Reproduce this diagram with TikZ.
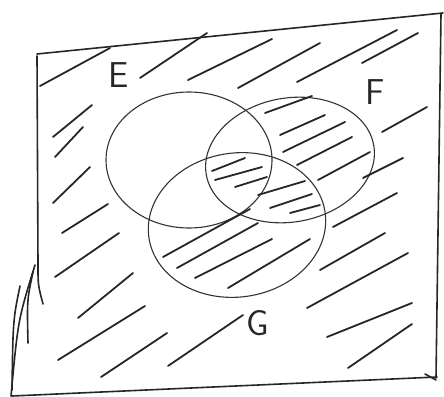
\documentclass[tikz,border=0pt]{standalone}
\usepackage{tikz}
\usetikzlibrary{calc}

\tikzset{
  frameline/.style={line width=1.6pt, black!85, line cap=round, line join=round},
  setline/.style={line width=1.1pt, black!80},
  hatch/.style={line width=1.8pt, black!85, line cap=round},
  setlabel/.style={font=\sffamily\fontsize{36}{36}\selectfont, text=black!85, inner sep=0pt}
}

\begin{document}
\begin{tikzpicture}[x=1pt,y=-1pt]

% --- Page size (pixel coordinates, y downwards) ---
\useasboundingbox (0,0) rectangle (444,396);

% --- Hand-drawn universe frame ---
\draw[frameline] (37,54) -- (443,13);
\draw[frameline] (441,14) -- (436,378);
\draw[frameline] (12,396) -- (437,377);
\draw[frameline] (425,374) -- (436,380);
\draw[frameline] (37,56) -- (38,265) .. controls (38,285) .. (43,304);
% extra strokes at the lower left corner
\draw[frameline] (35,265) .. controls (18,320) .. (11,396);
\draw[frameline] (33,272) .. controls (27,300) .. (28,343);
\draw[frameline] (20,286) .. controls (13,320) .. (12,390);

% --- The three sets ---
\draw[setline] (189,160) ellipse [x radius=83, y radius=68];
\draw[setline, rotate around={10:(290,160)}] (290,160) ellipse [x radius=85, y radius=62];
\draw[setline, rotate around={8:(237,225)}] (237,225) ellipse [x radius=89, y radius=72];

\node[setlabel] (labE) at (119,75) {E};
\node[setlabel] (labF) at (375,92) {F};
\node[setlabel] (labG) at (258,323) {G};

% --- Hatching outside the sets ---
\foreach \xa/\ya/\xb/\yb in {40/86/110/48, 140/78/207/33, 188/80/272/39,
    238/88/320/43, 297/82/397/30, 362/63/418/33,
    53/137/92/105, 55/157/83/127, 53/203/90/167, 62/233/108/204,
    55/277/119/233, 78/318/133/273, 58/360/145/306, 101/377/167/333,
    168/366/243/315,
    382/132/427/107, 363/178/403/158, 333/227/397/193, 320/270/385/233,
    307/308/408/253, 327/337/412/303, 348/368/412/324}
  \draw[hatch] (\xa,\ya) -- (\xb,\yb);

% --- Hatching inside F and G ---
\foreach \xa/\ya/\xb/\yb in {265/113/312/96, 280/135/325/115, 283/152/345/122,
    297/165/352/137, 318/180/370/152,
    212/171/245/158, 215/180/262/167, 235/187/267/177,
    258/195/305/181, 270/208/312/194, 290/213/320/205,
    163/257/250/209, 177/268/258/223, 195/278/272/239, 228/288/310/239}
  \draw[hatch] (\xa,\ya) -- (\xb,\yb);

\end{tikzpicture}
\end{document}
